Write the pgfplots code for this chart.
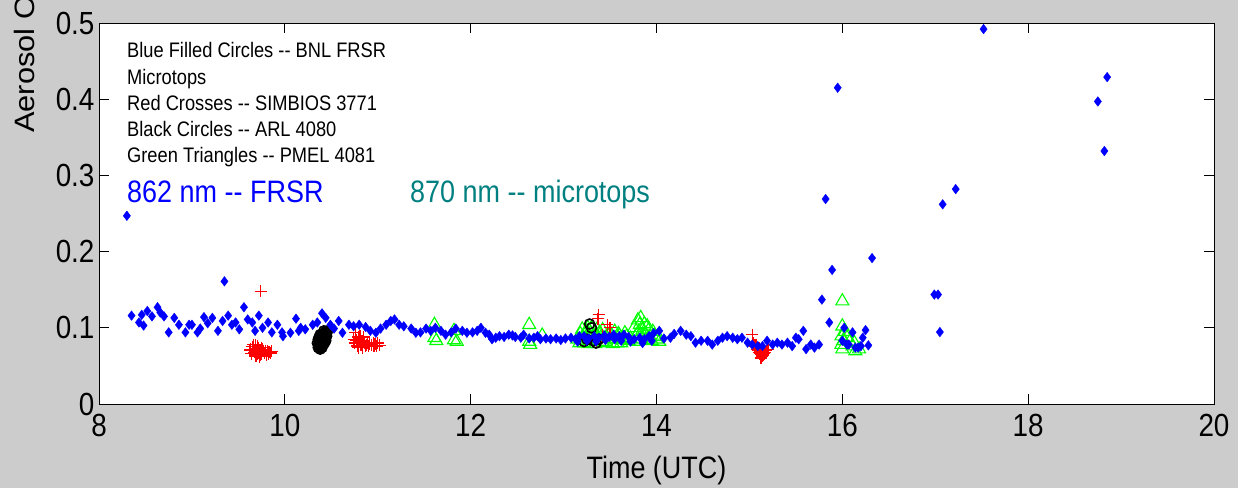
\documentclass[border=0pt]{standalone}
\usepackage{fontspec}
\setmainfont{Liberation Sans}
\newfontfamily\mfont[FakeStretch=0.87]{Liberation Sans}
\newfontfamily\yfont[FakeStretch=1.1]{Liberation Sans}
\usepackage{pgfplots}
\pgfplotsset{compat=1.18}
\definecolor{figgray}{RGB}{204,204,204}
\definecolor{mblue}{RGB}{0,0,255}
\definecolor{mred}{RGB}{255,0,0}
\definecolor{mgreen}{RGB}{0,255,0}
\definecolor{mteal}{RGB}{0,128,128}
\begin{document}
\begin{tikzpicture}[x=1pt,y=1pt]
\fill[figgray] (0,0) rectangle (1238,488);
\begin{axis}[
  at={(99pt,84pt)}, anchor=south west, scale only axis,
  width=1115pt, height=381pt,
  xmin=8, xmax=20, ymin=0, ymax=0.5,
  xtick={8,10,12,14,16,18,20}, xticklabels={8,10,12,14,16,18,20},
  ytick={0,0.1,0.2,0.3,0.4,0.5}, yticklabels={0,0.1,0.2,0.3,0.4,0.5},
  /pgf/number format/assume math mode=true,
  tick align=inside, major tick length=10pt,
  axis background/.style={fill=white},
  axis line style={black, line width=1pt},
  tick style={black, line width=0.9pt},
  ticklabel style={font=\mfont\fontsize{32}{32}\selectfont},
  xticklabel style={yshift=-7pt},
  yticklabel style={xshift=-1pt},
  xlabel={\mfont\fontsize{31}{31}\selectfont Time (UTC)},
  xlabel style={yshift=-12pt},
]
% green triangles
\addplot[only marks, mark=triangle, mark size=7.5pt, color=mgreen, mark options={line width=1.1pt}] coordinates {
(11.61,0.104)(11.61,0.087)(11.63,0.083)(11.82,0.096)(11.82,0.084)(11.85,0.082)
(12.63,0.104)(12.63,0.082)(12.64,0.078)(12.77,0.090)
(13.15,0.085)(13.18,0.092)(13.20,0.098)(13.22,0.080)(13.25,0.095)(13.28,0.088)(13.30,0.100)(13.33,0.083)(13.35,0.092)(13.40,0.087)(13.42,0.097)(13.45,0.082)(13.48,0.090)(13.52,0.085)(13.55,0.095)(13.58,0.080)(13.60,0.090)(13.63,0.087)(13.66,0.093)(13.70,0.083)
(13.17,0.080)(13.21,0.088)(13.24,0.083)(13.27,0.079)(13.29,0.093)(13.31,0.088)(13.34,0.079)(13.37,0.086)(13.39,0.094)(13.43,0.080)(13.46,0.088)(13.50,0.093)(13.53,0.079)(13.56,0.086)(13.59,0.092)(13.62,0.080)(13.65,0.084)(13.68,0.089)(13.72,0.086)(13.26,0.100)(13.36,0.098)
(13.76,0.100)(13.80,0.110)(13.82,0.104)(13.85,0.097)(13.78,0.090)(13.88,0.092)(13.90,0.102)(13.93,0.088)(13.96,0.095)(14.00,0.085)(14.03,0.082)(13.84,0.085)
(13.79,0.082)(13.81,0.095)(13.83,0.113)(13.87,0.105)(13.89,0.084)(13.92,0.098)(13.95,0.083)(13.98,0.090)(14.02,0.088)(13.86,0.090)
(16.00,0.135)(16.00,0.102)(15.99,0.089)(15.99,0.078)(16.00,0.072)(16.05,0.087)(16.11,0.076)(16.14,0.0695)(16.18,0.072)(16.03,0.095)(16.08,0.082)(16.01,0.083)(16.13,0.080)
};
% red crosses
\addplot[only marks, mark=+, mark size=6pt, color=mred, mark options={line width=1.2pt}] coordinates {
(9.74,0.148)
(9.63,0.072)(9.65,0.075)(9.67,0.068)(9.68,0.078)(9.70,0.071)(9.71,0.066)(9.72,0.074)(9.74,0.069)(9.75,0.065)(9.76,0.072)(9.78,0.067)(9.80,0.064)(9.82,0.066)(9.85,0.067)(9.69,0.063)(9.73,0.062)
(9.62,0.070)(9.64,0.066)(9.66,0.072)(9.68,0.070)(9.70,0.065)(9.71,0.076)(9.73,0.070)(9.75,0.074)(9.77,0.069)(9.79,0.070)(9.81,0.069)(9.83,0.068)(9.86,0.069)(9.72,0.067)(9.74,0.064)(9.66,0.078)
(10.74,0.085)(10.76,0.094)(10.78,0.080)(10.80,0.086)(10.82,0.077)(10.83,0.083)(10.84,0.074)(10.86,0.080)(10.88,0.078)(10.90,0.076)(10.93,0.078)(10.96,0.076)(10.99,0.076)(11.02,0.077)(10.79,0.074)(10.85,0.088)
(10.75,0.080)(10.77,0.084)(10.79,0.088)(10.81,0.082)(10.83,0.078)(10.85,0.082)(10.87,0.076)(10.89,0.080)(10.91,0.079)(10.95,0.080)(10.97,0.079)(11.00,0.080)(10.81,0.089)(10.78,0.076)
(13.38,0.117)(13.37,0.112)(13.47,0.104)(13.50,0.100)(13.42,0.090)(13.45,0.085)(13.35,0.082)
(15.03,0.091)(15.04,0.080)(15.06,0.075)(15.08,0.072)(15.10,0.068)(15.12,0.065)(15.14,0.063)(15.16,0.066)(15.18,0.070)(15.07,0.078)(15.11,0.073)(15.15,0.071)(15.13,0.060)
(15.05,0.077)(15.09,0.070)(15.11,0.066)(15.13,0.068)(15.15,0.064)(15.17,0.068)(15.20,0.072)(15.12,0.061)
};
% black circles
\addplot[only marks, mark=o, mark size=5pt, color=black, mark options={line width=1.6pt}] coordinates {
(10.36,0.078)(10.37,0.082)(10.38,0.086)(10.39,0.080)(10.40,0.084)(10.41,0.088)(10.42,0.092)(10.43,0.090)(10.44,0.095)(10.38,0.076)(10.40,0.078)(10.42,0.083)(10.44,0.087)(10.36,0.085)(10.45,0.093)(10.39,0.090)(10.41,0.079)(10.43,0.085)(10.37,0.074)(10.40,0.090)(10.38,0.081)(10.42,0.087)
(10.35,0.080)(10.36,0.074)(10.37,0.078)(10.38,0.072)(10.39,0.075)(10.39,0.084)(10.40,0.081)(10.41,0.084)(10.41,0.092)(10.42,0.096)(10.43,0.081)(10.44,0.091)(10.45,0.089)(10.46,0.096)(10.40,0.087)(10.37,0.088)(10.38,0.091)(10.44,0.083)(10.42,0.079)(10.40,0.074)
(13.28,0.105)(13.30,0.100)(13.25,0.085)(13.32,0.083)(13.35,0.080)(13.22,0.082)(13.38,0.085)
};
% blue filled
\addplot[only marks, mark=diamond*, mark size=4.8pt, color=mblue] coordinates {
(8.30,0.247)(9.35,0.161)
(8.35,0.116)(8.43,0.107)(8.46,0.117)(8.48,0.103)(8.52,0.122)(8.57,0.115)(8.63,0.127)(8.66,0.120)(8.70,0.115)(8.75,0.094)
(8.81,0.113)(8.86,0.104)(8.93,0.094)(8.97,0.104)(9.00,0.104)(9.06,0.094)(9.09,0.099)(9.13,0.114)(9.17,0.106)(9.22,0.113)
(9.28,0.096)(9.33,0.109)(9.39,0.116)(9.43,0.104)(9.47,0.107)(9.51,0.098)(9.56,0.127)(9.60,0.111)(9.65,0.107)(9.68,0.096)
(9.72,0.116)(9.76,0.100)(9.82,0.107)(9.86,0.094)(9.92,0.104)(9.97,0.094)(9.98,0.089)(10.06,0.0935)(10.12,0.112)(10.15,0.096)
(10.17,0.100)(10.22,0.098)(10.30,0.104)(10.35,0.107)(10.40,0.119)(10.44,0.113)(10.49,0.104)(10.53,0.099)(10.58,0.109)(10.62,0.0935)
(10.69,0.104)(10.74,0.102)(10.80,0.104)(10.87,0.101)(10.92,0.096)(10.98,0.0935)(11.03,0.099)(11.09,0.104)(11.14,0.109)(11.18,0.111)
(11.23,0.104)(11.28,0.102)(11.36,0.099)(11.41,0.0935)(11.46,0.094)(11.52,0.099)(11.57,0.096)(11.62,0.100)(11.68,0.096)(11.73,0.091)
(11.79,0.094)(11.84,0.099)(11.91,0.096)(11.96,0.0935)(12.02,0.094)(12.07,0.096)(12.11,0.100)(12.16,0.0935)(12.20,0.091)(12.23,0.085)
(12.27,0.087)(12.31,0.089)(12.36,0.088)(12.41,0.091)(12.45,0.090)(12.48,0.088)(12.54,0.087)(12.57,0.091)(12.63,0.086)(12.68,0.087)
(12.72,0.089)(12.75,0.085)(12.81,0.086)(12.86,0.085)(12.92,0.086)(12.97,0.084)(13.02,0.086)(13.08,0.087)(13.13,0.085)(13.17,0.089)
(13.22,0.089)(13.27,0.086)(13.33,0.089)(13.38,0.087)(13.44,0.090)(13.49,0.088)(13.54,0.091)(13.60,0.089)(13.65,0.091)(13.70,0.088)
(13.76,0.085)(13.82,0.087)(13.87,0.085)(13.92,0.089)(13.97,0.093)(14.03,0.096)(14.08,0.086)(14.15,0.087)(14.19,0.092)(14.26,0.096)
(13.15,0.082)(13.25,0.083)(13.35,0.082)(13.45,0.084)(13.55,0.085)(13.62,0.083)(13.72,0.082)(13.85,0.080)(13.95,0.083)
(14.32,0.091)(14.37,0.089)(14.42,0.0805)(14.48,0.083)(14.55,0.083)(14.60,0.078)(14.66,0.083)(14.71,0.087)(14.76,0.089)(14.82,0.087)
(14.87,0.085)(14.92,0.087)(14.98,0.0805)(15.03,0.078)(15.09,0.076)(15.14,0.076)(15.19,0.083)(15.25,0.078)(15.30,0.0805)(15.35,0.078)
(15.41,0.0805)(15.46,0.076)(15.50,0.087)(15.53,0.085)(15.58,0.096)(15.61,0.072)(15.66,0.078)(15.70,0.074)(15.75,0.078)(15.78,0.137)
(15.82,0.269)(15.86,0.107)(15.89,0.176)(15.95,0.415)(16.00,0.083)(16.02,0.100)(16.05,0.078)(16.07,0.078)(16.11,0.094)(16.14,0.074)(16.17,0.074)
(16.20,0.076)(16.22,0.087)(16.25,0.097)(16.28,0.077)(16.32,0.1915)
(16.99,0.1436)(17.03,0.1436)(17.05,0.0944)(17.08,0.262)(17.22,0.282)(17.52,0.492)
(18.75,0.397)(18.82,0.332)(18.85,0.429)
};
\end{axis}
% annotations
\begin{scope}[every node/.style={anchor=base west, inner sep=0pt, font=\mfont\fontsize{21}{21}\selectfont}]
\node at (127,430) {Blue Filled Circles -- BNL FRSR};
\node at (127,403) {Microtops};
\node at (127,377) {Red Crosses -- SIMBIOS 3771};
\node at (127,351) {Black Circles -- ARL 4080};
\node at (127,325) {Green Triangles -- PMEL 4081};
\end{scope}
\node[anchor=base west, inner sep=0pt, text=mblue, font=\mfont\fontsize{31}{31}\selectfont] at (127,286) {862 nm -- FRSR};
\node[anchor=base west, inner sep=0pt, text=mteal, font=\mfont\fontsize{31}{31}\selectfont] at (410,286) {870 nm -- microtops};
\node[rotate=90, anchor=base west, inner sep=0pt, font=\yfont\fontsize{28}{28}\selectfont] at (34,355) {Aerosol Optical Depth};
\pgfresetboundingbox
\path (0,0) rectangle (1238,488);
\end{tikzpicture}
\end{document}
